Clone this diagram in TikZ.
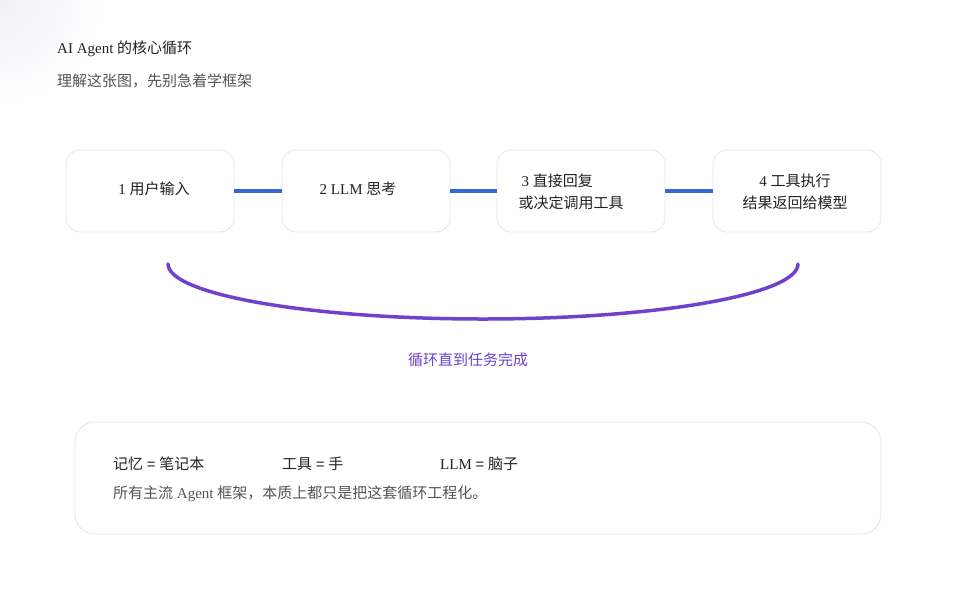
\documentclass[tikz,border=0pt]{standalone}
\usepackage{fontspec}
\setmainfont{Liberation Serif}
\newfontfamily\cjk{Noto Sans CJK SC}
\newfontfamily\lsans{Liberation Sans}
\usetikzlibrary{fadings}
\definecolor{ink}{HTML}{222222}
\definecolor{subink}{HTML}{555555}
\definecolor{edgegray}{HTML}{E6E6EA}
\definecolor{flow}{HTML}{3568D4}
\definecolor{loopc}{HTML}{7042CC}
\definecolor{corner}{HTML}{EEF1F6}
\newcommand{\zh}[1]{{\cjk #1}}
\tikzfading[name=cornerfade, inner color=transparent!0, outer color=transparent!100]
\begin{document}
\begin{tikzpicture}[x=1pt,y=-1pt,
  stepbox/.style={draw=edgegray, line width=0.8pt, rounded corners=14pt,
    minimum width=168pt, minimum height=82pt, fill=white, inner sep=0pt},
  steptext/.style={font=\fontsize{15}{22}\selectfont, text=ink, align=center, inner sep=0pt},
  link/.style={draw=flow, line width=4.5pt},
  loopline/.style={draw=loopc, line width=3.5pt, line cap=round},
  panel/.style={draw=edgegray, line width=0.8pt, rounded corners=20pt, fill=white,
    minimum width=806pt, minimum height=112pt, inner sep=0pt},
  note/.style={font=\fontsize{15}{18}\selectfont, text=ink, anchor=west, inner sep=0pt},
  subnote/.style={font=\fontsize{15}{18}\selectfont, text=subink, anchor=west, inner sep=0pt}]
\useasboundingbox (0,0) rectangle (960,600);
\fill[white] (0,0) rectangle (960,600);
\fill[corner, path fading=cornerfade] (-100,-100) rectangle (100,100);

% titles
\node[note] (title) at (57,49) {AI Agent \zh{的核心循环}};
\node[subnote] (subtitle) at (57,81) {\zh{理解这张图，先别急着学框架}};

% step boxes
\node[stepbox] (b1) at (150,191) {};
\node[stepbox] (b2) at (366,191) {};
\node[stepbox] (b3) at (581,191) {};
\node[stepbox] (b4) at (797,191) {};

\draw[link] (b1.east) -- (b2.west);
\draw[link] (b2.east) -- (b3.west);
\draw[link] (b3.east) -- (b4.west);

\node[steptext] (t1) at (154,189) {1 \zh{用户输入}};
\node[steptext] (t2) at (358,189) {2 LLM \zh{思考}};
\node[steptext, align=left] (t3) at (571,192) {\hspace{3pt}3 \zh{直接回复}\\\zh{或决定调用工具}};
\node[steptext] (t4) at (795,192) {4 \zh{工具执行}\\\zh{结果返回给模型}};

% loop arc
\coordinate (a1) at (168,264);
\coordinate (a2) at (798,264);
\draw[loopline] (a1) arc[start angle=180, end angle=360, x radius=315, y radius=-55];
\node[font=\fontsize{15}{18}\selectfont, text=loopc, inner sep=0pt] (looplabel) at (468,360) {\zh{循环直到任务完成}};

% bottom panel
\node[panel] (p) at (478,478) {};
\node[note] (n1) at (113,464) {\zh{记忆} {\lsans =} \zh{笔记本}};
\node[note] (n2) at (282,464) {\zh{工具} {\lsans =} \zh{手}};
\node[note] (n3) at (440,464) {LLM {\lsans =} \zh{脑子}};
\node[subnote] (n4) at (113,494) {\zh{所有主流} Agent \zh{框架，本质上都只是把这套循环工程化。}};
\end{tikzpicture}
\end{document}
